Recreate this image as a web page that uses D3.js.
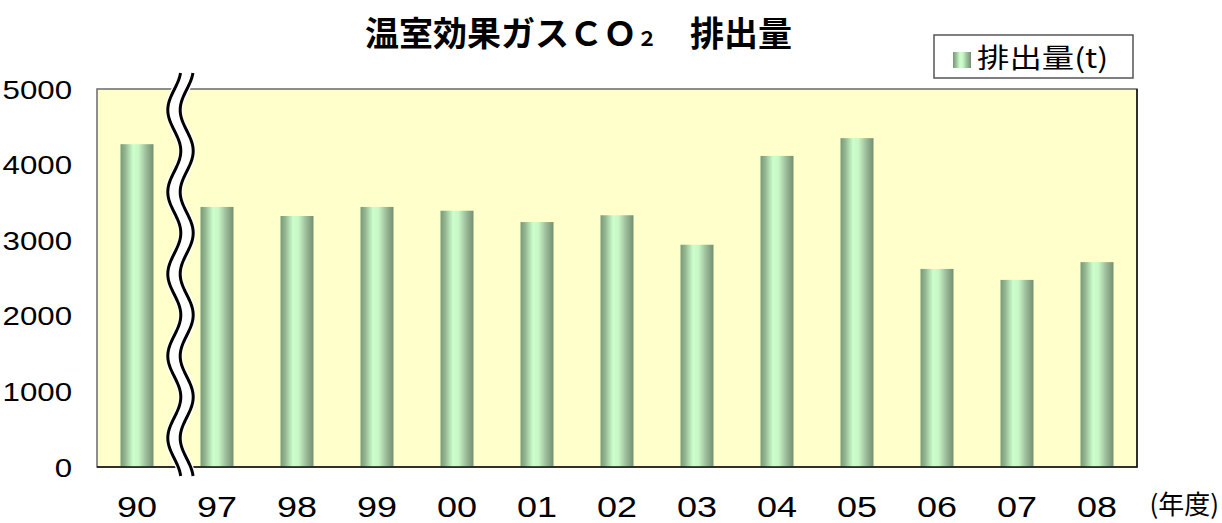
<!DOCTYPE html>
<html>
<head>
<meta charset="utf-8">
<script src="https://cdn.jsdelivr.net/npm/d3@7"></script>
<style>
  body { margin: 0; background: #fff; }
  svg { display: block; }
</style>
</head>
<body>
<div id="chart"></div>
<script>
// data
var years = ['90', '97', '98', '99', '00', '01', '02', '03', '04', '05', '06', '07', '08'];
var emissions = [4270, 3440, 3320, 3440, 3390, 3240, 3330, 2940, 4115, 4350, 2620, 2475, 2710];
var yTicks = [0, 1000, 2000, 3000, 4000, 5000];
var seriesName = '排出量(t)';
var unitLabel = '(年度)';

var svgWidth = 1222;
var svgHeight = 523;

var plot = { left: 97, right: 1137, top: 89, bottom: 467 };

var svg = d3
  .select('#chart')
  .append('svg')
  .attr('width', svgWidth)
  .attr('height', svgHeight);

// bar gradient (dark edges, light middle)
var defs = svg.append('defs');
var grad = defs
  .append('linearGradient')
  .attr('id', 'barGrad')
  .attr('x1', '0%')
  .attr('x2', '100%')
  .attr('y1', '0%')
  .attr('y2', '0%');
[
  ['0%', '#789a77'],
  ['15%', '#95b893'],
  ['38%', '#ccffcc'],
  ['55%', '#c6f6c5'],
  ['78%', '#9abb98'],
  ['100%', '#738f71'],
].forEach(function (s) {
  grad.append('stop').attr('offset', s[0]).attr('stop-color', s[1]);
});

var data = years.map(function (y, i) {
  return { year: y, value: emissions[i] };
});

// scales
var xScale = d3
  .scaleBand()
  .domain(years)
  .range([plot.left, plot.right])
  .paddingInner(0.5875)
  .paddingOuter(0.29375);

var xLabelScale = d3
  .scaleBand()
  .domain(years)
  .range([plot.left, plot.right]);

var yScale = d3
  .scaleLinear()
  .domain([0, 5000])
  .range([plot.bottom, plot.top]);

// plot area
svg
  .append('rect')
  .attr('x', plot.left)
  .attr('y', plot.top)
  .attr('width', plot.right - plot.left)
  .attr('height', plot.bottom - plot.top)
  .attr('fill', '#ffffcc')
  .attr('stroke', '#6a6a6a')
  .attr('stroke-width', 1.5);

// bars
svg
  .selectAll('.bar')
  .data(data)
  .enter()
  .append('rect')
  .attr('class', 'bar')
  .attr('x', (d) => xScale(d.year))
  .attr('y', (d) => yScale(d.value))
  .attr('width', xScale.bandwidth())
  .attr('height', (d) => yScale(0) - yScale(d.value))
  .attr('fill', 'url(#barGrad)');

// bottom / right edges darker
svg
  .append('path')
  .attr('d', `M${plot.left},${plot.bottom}H${plot.right}V${plot.top}`)
  .attr('fill', 'none')
  .attr('stroke', '#111')
  .attr('stroke-width', 1.5);

// y axis labels
var yAxis = svg
  .append('g')
  .attr('transform', `translate(${plot.left}, 0)`)
  .call(d3.axisLeft(yScale).tickValues(yTicks).tickSize(0).tickPadding(0).tickFormat(d3.format('d')));
yAxis.select('.domain').remove();
yAxis
  .selectAll('text')
  .attr('x', -20)
  .attr('dy', '0.36em')
  .attr('transform', 'scale(1.25,1)')
  .style('font-family', '"Liberation Sans", Arial, sans-serif')
  .style('font-size', '25px')
  .attr('fill', '#000');

// x axis labels
var xAxis = svg
  .append('g')
  .attr('transform', `translate(0, 517)`)
  .call(d3.axisBottom(xLabelScale).tickSize(0).tickPadding(0));
xAxis.select('.domain').remove();
xAxis
  .selectAll('text')
  .attr('y', 0)
  .attr('dy', 0)
  .attr('transform', 'scale(1.2,1)')
  .style('font-family', '"Liberation Sans", Arial, sans-serif')
  .style('font-size', '30px')
  .attr('fill', '#000');

svg
  .append('text')
  .attr('transform', 'translate(1219, 514)')
  .attr('text-anchor', 'end')
  .style('font-family', '"Noto Sans CJK JP", sans-serif')
  .style('font-size', '26px')
  .text(unitLabel);

// axis break (wavy double line between 90 and 97)
var waveCx = 180.5;
var wavePts = d3.range(73, 476.5, 1).map(function (y) {
  return [waveCx - 6.5 * Math.cos((2 * Math.PI * (y - 110)) / 82), y];
});
var waveLine = d3.line().curve(d3.curveBasis);
var brk = svg.append('g');
brk
  .append('path')
  .attr('d', waveLine(wavePts))
  .attr('fill', 'none')
  .attr('stroke', '#fff')
  .attr('stroke-width', 17);
[-6.2, 6.2].forEach(function (off) {
  brk
    .append('path')
    .attr('d', waveLine(wavePts.map((p) => [p[0] + off, p[1]])))
    .attr('fill', 'none')
    .attr('stroke', '#000')
    .attr('stroke-width', 3);
});

// title
var title = svg
  .append('text')
  .attr('transform', 'translate(365, 46)')
  .style('font-family', '"Noto Sans CJK JP", sans-serif')
  .style('font-weight', 'bold')
  .style('font-size', '34px')
  .attr('fill', '#000');
title.append('tspan').text('温室効果ガスＣＯ');
title.append('tspan').style('font-size', '20px').text('２');
title.append('tspan').attr('x', 325).text('排出量');

// legend
var legend = svg.append('g').attr('transform', 'translate(934, 35)');
legend
  .append('rect')
  .attr('width', 199)
  .attr('height', 43)
  .attr('fill', '#fff')
  .attr('stroke', '#555')
  .attr('stroke-width', 1.5);
legend
  .append('rect')
  .attr('x', 19)
  .attr('y', 17)
  .attr('width', 18)
  .attr('height', 16)
  .attr('fill', 'url(#barGrad)');
legend
  .append('text')
  .attr('transform', 'translate(43, 33) scale(1.2,1)')
  .style('font-family', '"Noto Sans CJK JP", sans-serif')
  .style('font-size', '27px')
  .attr('fill', '#000')
  .text(seriesName);
</script>
</body>
</html>
